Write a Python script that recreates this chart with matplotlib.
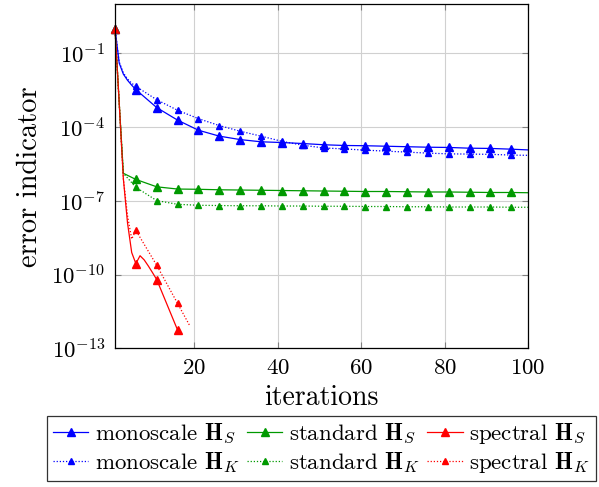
import numpy as np
import matplotlib
matplotlib.use("Agg")
import matplotlib.pyplot as plt
from matplotlib.ticker import LogFormatterSciNotation, NullLocator

plt.rcParams["font.family"] = "serif"
plt.rcParams["font.serif"] = ["cmr10"]
plt.rcParams["mathtext.fontset"] = "cm"
plt.rcParams["axes.formatter.use_mathtext"] = True

# log10 of the error indicator
mono_s_it = [1, 2, 3, 4, 5, 6, 11, 16, 21, 26, 31, 36, 41, 46, 51, 56, 61, 66, 71, 76, 81, 86, 91, 96, 100]
mono_s_log = [0, -1.4, -1.85, -2.1, -2.3, -2.48, -3.21, -3.72, -4.13, -4.37, -4.51, -4.60, -4.63, -4.67,
              -4.72, -4.75, -4.76, -4.78, -4.80, -4.82, -4.83, -4.86, -4.87, -4.90, -4.93]
mono_k_it = mono_s_it
mono_k_log = [0, -1.35, -1.8, -2.05, -2.22, -2.35, -2.89, -3.32, -3.66, -3.94, -4.17, -4.37, -4.58, -4.74,
              -4.85, -4.89, -4.94, -4.98, -5.02, -5.06, -5.09, -5.10, -5.11, -5.14, -5.15]

std_it = [1, 2, 3, 6, 11, 16, 21, 26, 31, 36, 41, 46, 51, 56, 61, 66, 71, 76, 81, 86, 91, 96, 100]
std_s_log = [0, -3.0, -5.88, -6.13, -6.43, -6.52, -6.53, -6.55, -6.56, -6.57, -6.58, -6.59, -6.60, -6.61,
             -6.62, -6.62, -6.63, -6.64, -6.64, -6.65, -6.66, -6.66, -6.67]
std_k_log = [0, -3.0, -5.88, -6.45, -6.99, -7.14, -7.18, -7.19, -7.20, -7.20, -7.21, -7.21, -7.22, -7.22,
             -7.23, -7.23, -7.24, -7.24, -7.25, -7.25, -7.25, -7.26, -7.26]

spec_s_it = [1, 2, 3, 4, 5, 6, 7, 8, 9, 10, 11, 16]
spec_s_log = [0, -3.0, -6.1, -7.9, -9.1, -9.55, -9.23, -9.4, -9.65, -9.92, -10.2, -12.25]
spec_k_it = [1, 2, 3, 4, 5, 6, 11, 16, 17, 18, 19]
spec_k_log = [0, -3.0, -6.1, -7.6, -8.55, -8.2, -9.62, -11.17, -11.48, -11.79, -12.1]

labels = ["monoscale", "standard", "spectral"]
colors = ["#0000ff", "#009900", "#ff0000"]

series = [
    (mono_s_it, mono_s_log, mono_k_it, mono_k_log),
    (std_it, std_s_log, std_it, std_k_log),
    (spec_s_it, spec_s_log, spec_k_it, spec_k_log),
]

fig = plt.figure(figsize=(5.99, 4.87), dpi=100)
ax = fig.add_axes([0.192, 0.2844, 0.6895, 0.7074])

marker_iters = set(range(1, 101, 5))
handles = {}
# solid (H_S) curves first, then dotted (H_K)
for kind in ["S", "K"]:
    for name, col, (its, sl, itk, kl) in zip(labels, colors, series):
        it = its if kind == "S" else itk
        lg = sl if kind == "S" else kl
        every = [i for i, v in enumerate(it) if v in marker_iters]
        if kind == "S":
            ls, ms = "-", 6
        else:
            ls, ms = (0, (1, 1.5)), 4.2
        (h,) = ax.plot(it, 10.0 ** np.array(lg), color=col, ls=ls, lw=0.9,
                       marker="^", ms=ms, markevery=every, clip_on=False,
                       label=name + r" $\mathbf{H}_" + kind + "$")
        handles[(name, kind)] = h

ax.set_yscale("log")
ax.set_xlim(1, 100)
ax.set_ylim(1e-13, 10)
ax.set_xticks([20, 40, 60, 80, 100])
ax.set_yticks([1e-13, 1e-10, 1e-7, 1e-4, 1e-1])
ax.yaxis.set_major_formatter(LogFormatterSciNotation())
ax.yaxis.set_minor_locator(NullLocator())
ax.grid(True, color="#d0d0d0", lw=0.8)
ax.set_axisbelow(True)
ax.tick_params(direction="in", length=4, color="#808080", labelsize=16.5,
               top=True, right=True, pad=7)
for sp in ax.spines.values():
    sp.set_linewidth(0.9)

ax.set_xlabel("iterations", fontsize=20, labelpad=5)
ax.set_ylabel("error indicator", fontsize=20.5, labelpad=6)

order = [handles[(n, k)] for n in labels for k in ["S", "K"]]
leg = ax.legend(handles=order, loc="upper center", bbox_to_anchor=(0.5, -0.197),
                ncol=3, fontsize=16.5, frameon=True, fancybox=False, edgecolor="black",
                handlelength=1.55, handletextpad=0.3, columnspacing=0.3,
                labelspacing=0.15, borderpad=0.25, borderaxespad=0)
leg.get_frame().set_linewidth(0.9)

plt.savefig("out.png", dpi=100)
